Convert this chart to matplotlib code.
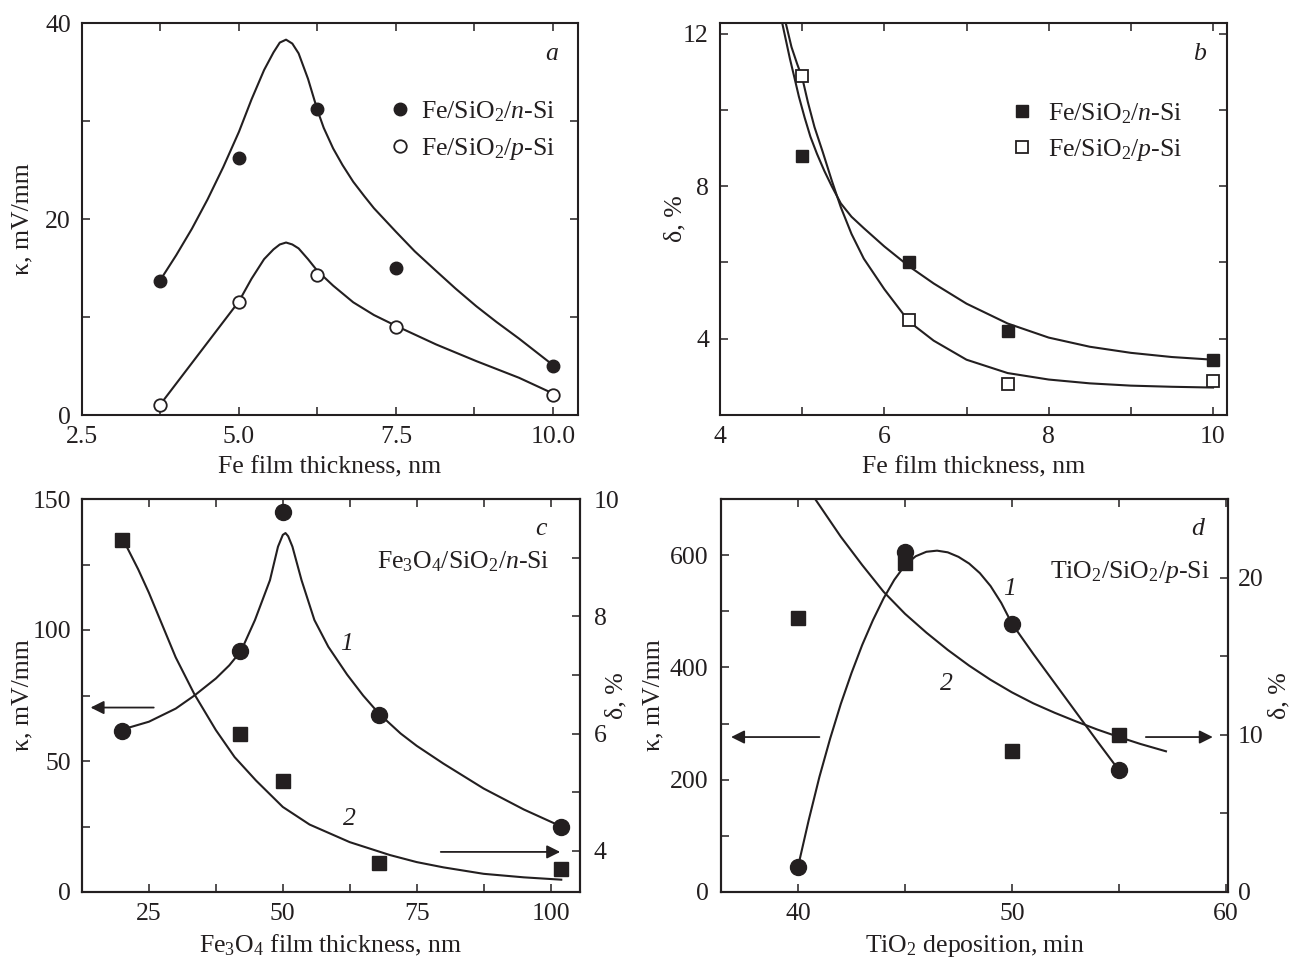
import matplotlib
matplotlib.use("Agg")
import matplotlib.pyplot as plt
from matplotlib.ticker import MultipleLocator, FormatStrFormatter

FS = 18.5
plt.rcParams['font.family'] = ['Liberation Serif', 'DejaVu Serif']
plt.rcParams['mathtext.fontset'] = 'custom'
plt.rcParams['mathtext.rm'] = 'Liberation Serif'
plt.rcParams['mathtext.it'] = 'Liberation Serif:italic'
plt.rcParams['font.size'] = FS

INK = '#231f20'

# --- panel a: kappa vs Fe thickness
a_thick = [3.75, 5.0, 6.25, 7.5, 10.0]
a_kappa_n = [13.7, 26.2, 31.2, 15.0, 5.0]
a_kappa_p = [1.0, 11.5, 14.3, 9.0, 2.0]
a_fit_n_x = [3.75, 4.0, 4.25, 4.5, 4.75, 5.0, 5.2, 5.4, 5.55, 5.65, 5.75, 5.85, 5.95,
             6.1, 6.25, 6.35, 6.5, 6.65, 6.82, 7.0, 7.15, 7.5, 7.8, 8.14, 8.45, 8.78,
             9.1, 9.46, 10.0]
a_fit_n_y = [13.8, 16.3, 19.0, 22.0, 25.3, 28.9, 32.2, 35.2, 37.0, 38.0, 38.3, 37.9, 36.9,
             34.3, 31.1, 29.3, 27.2, 25.5, 23.8, 22.3, 21.1, 18.7, 16.7, 14.7, 12.9, 11.1,
             9.5, 7.8, 5.1]
a_fit_p_x = [3.75, 4.0, 4.25, 4.5, 4.75, 5.0, 5.2, 5.4, 5.55, 5.65, 5.75, 5.85, 5.95,
             6.1, 6.25, 6.5, 6.82, 7.15, 7.5, 8.14, 8.78, 9.46, 10.0]
a_fit_p_y = [1.1, 3.2, 5.3, 7.4, 9.5, 11.6, 13.9, 15.9, 16.9, 17.4, 17.6, 17.4, 17.0,
             15.9, 14.7, 13.2, 11.5, 10.2, 9.1, 7.2, 5.5, 3.8, 2.2]

# --- panel b: delta vs Fe thickness
b_thick = [5.0, 6.3, 7.5, 10.0]
b_delta_n = [8.8, 6.0, 4.2, 3.45]
b_delta_p = [10.9, 4.5, 2.8, 2.9]
b_fit_n_x = [4.757, 4.80, 4.85, 4.90, 4.96, 5.03, 5.10, 5.18, 5.27, 5.36, 5.47, 5.6,
             5.75, 6.0, 6.3, 6.6, 7.0, 7.5, 8.0, 8.5, 9.0, 9.5, 10.0]
b_fit_n_y = [12.28, 11.85, 11.35, 10.9, 10.35, 9.8, 9.3, 8.85, 8.4, 8.0, 7.55, 7.2,
             6.9, 6.42, 5.9, 5.45, 4.92, 4.4, 4.03, 3.79, 3.63, 3.52, 3.45]
b_fit_p_x = [4.80, 4.87, 4.94, 5.0, 5.07, 5.15, 5.25, 5.36, 5.47, 5.6, 5.75, 6.0, 6.3,
             6.6, 7.0, 7.5, 8.0, 8.5, 9.0, 9.5, 10.0]
b_fit_p_y = [12.28, 11.65, 11.2, 10.85, 10.2, 9.55, 8.9, 8.15, 7.45, 6.75, 6.1, 5.3, 4.45,
             3.95, 3.45, 3.1, 2.93, 2.83, 2.77, 2.74, 2.72]

# --- panel c: Fe3O4 films
c_thick = [20, 42, 50, 68, 102]
c_kappa = [61.5, 92, 145, 67.5, 24.8]
c_delta = [9.3, 6.0, 5.2, 3.8, 3.7]
c_fit_k_x = [20, 25, 30, 33.5, 37.5, 40, 42.2, 44.8, 47.6, 49.1, 50.0, 50.5, 51.0, 51.8,
             53.5, 55.9, 58.5, 62, 65, 68, 72, 75, 80, 87.5, 95, 102]
c_fit_k_y = [62, 65, 70, 75, 81.5, 86.5, 92, 103.8, 119, 131.8, 136.3, 137, 135.8, 131.8,
             119, 103.8, 93.6, 83, 75, 68, 60.5, 55.8, 49, 39.5, 31.5, 25]
c_fit_d_x = [20.5, 23, 25, 27.5, 30, 33.5, 37.5, 41, 45, 50, 55, 62.5, 70, 75, 80, 87.5,
             95, 102]
c_fit_d_y = [9.25, 8.8, 8.4, 7.85, 7.3, 6.67, 6.06, 5.6, 5.2, 4.75, 4.45, 4.15, 3.93,
             3.81, 3.72, 3.61, 3.55, 3.51]

# --- panel d: TiO2 deposition
d_time = [40, 45, 50, 55]
d_kappa = [45, 605, 478, 218]
d_delta = [17.4, 20.9, 9.0, 10.0]
d_fit_k_x = [40, 40.5, 41, 41.5, 42, 42.5, 43, 43.5, 44, 44.5, 45, 45.5, 46, 46.5, 47,
             47.5, 48, 48.5, 49, 49.5, 50, 51, 52, 53, 54, 55]
d_fit_k_y = [45, 128, 205, 273, 335, 390, 440, 484, 523, 556, 582, 598, 606, 608, 605,
             597, 585, 568, 545, 515, 478, 424, 372, 320, 268, 217]
d_fit_d_x = [40.8, 41.5, 42, 43, 44, 45, 46, 47, 48, 49, 50, 51, 52, 53, 54, 55, 56, 57.2]
d_fit_d_y = [25, 23.6, 22.6, 20.8, 19.1, 17.7, 16.5, 15.4, 14.4, 13.5, 12.7, 12.0, 11.4,
             10.85, 10.33, 9.86, 9.42, 8.95]

W, H = 1294, 958


def axes_box(left, top, right, bottom):
    return [left / W, 1 - bottom / H, (right - left) / W, (bottom - top) / H]


def style(ax):
    ax.tick_params(which='both', direction='in', length=6, width=1.1, color=INK,
                   labelcolor=INK, pad=8, labelsize=FS)
    for s in ax.spines.values():
        s.set_linewidth(1.5)
        s.set_color(INK)


def arrow(ax, x0, x1, y):
    ax.annotate('', xy=(x1, y), xytext=(x0, y),
                arrowprops=dict(arrowstyle='-|>', color=INK, lw=1.3, mutation_scale=20,
                                shrinkA=0, shrinkB=0))


fig = plt.figure(figsize=(W / 100, H / 100), dpi=100)
lw = 1.5

# ---------- a
ax = fig.add_axes(axes_box(82, 23, 578, 415))
ax.plot(a_fit_n_x, a_fit_n_y, '-', color=INK, lw=lw, zorder=2)
ax.plot(a_fit_p_x, a_fit_p_y, '-', color=INK, lw=lw, zorder=2)
ax.plot(a_thick, a_kappa_n, 'o', color=INK, ms=9, zorder=3, label='Fe/SiO$_\\mathrm{2}$/$n$-Si')
ax.plot(a_thick, a_kappa_p, 'o', mfc='white', mec=INK, mew=1.3, ms=9, zorder=3,
        label='Fe/SiO$_\\mathrm{2}$/$p$-Si')
ax.set_xlim(2.5, 10.4)
ax.set_ylim(0, 40)
ax.xaxis.set_major_locator(MultipleLocator(2.5))
ax.xaxis.set_minor_locator(MultipleLocator(1.25))
ax.xaxis.set_major_formatter(FormatStrFormatter('%.1f'))
ax.yaxis.set_major_locator(MultipleLocator(20))
ax.yaxis.set_minor_locator(MultipleLocator(10))
style(ax)
ax.tick_params(which='both', top=True, right=True)
ax.set_xlabel('Fe film thickness, nm', color=INK)
ax.set_ylabel('κ, mV/mm', color=INK)
ax.xaxis.set_label_coords(0.5, -0.105)
ax.yaxis.set_label_coords(-0.098, 0.5)
ax.text(9.98, 36.2, 'a', style='italic', ha='center', va='baseline', color=INK)
ax.legend(loc='upper left', bbox_to_anchor=(0.615, 0.805), frameon=False, handlelength=1.0,
          handletextpad=0.34, labelspacing=0.46, borderpad=0, borderaxespad=0, numpoints=1,
          labelcolor=INK)

# ---------- b
ax = fig.add_axes(axes_box(720, 23, 1227, 415))
ax.plot(b_fit_n_x, b_fit_n_y, '-', color=INK, lw=lw, zorder=2)
ax.plot(b_fit_p_x, b_fit_p_y, '-', color=INK, lw=lw, zorder=2)
ax.plot(b_thick, b_delta_n, 's', color=INK, ms=8, zorder=3, label='Fe/SiO$_\\mathrm{2}$/$n$-Si')
ax.plot(b_thick, b_delta_p, 's', mfc='white', mec=INK, mew=1.3, ms=8, zorder=3,
        label='Fe/SiO$_\\mathrm{2}$/$p$-Si')
ax.set_xlim(4, 10.17)
ax.set_ylim(2.0, 12.28)
ax.xaxis.set_major_locator(MultipleLocator(2))
ax.xaxis.set_minor_locator(MultipleLocator(1))
ax.yaxis.set_major_locator(MultipleLocator(4))
ax.yaxis.set_minor_locator(MultipleLocator(2))
style(ax)
ax.tick_params(which='both', top=True, right=True)
ax.set_xlabel('Fe film thickness, nm', color=INK)
ax.set_ylabel('δ, %', color=INK)
ax.xaxis.set_label_coords(0.5, -0.105)
ax.yaxis.set_label_coords(-0.067, 0.5)
ax.text(9.83, 11.3, 'b', style='italic', ha='center', va='baseline', color=INK)
ax.legend(loc='upper left', bbox_to_anchor=(0.57, 0.80), frameon=False, handlelength=1.0,
          handletextpad=0.5, labelspacing=0.42, borderpad=0, borderaxespad=0, numpoints=1,
          labelcolor=INK)

# ---------- c
ax = fig.add_axes(axes_box(82, 499, 580, 892))
ax2 = ax.twinx()
ax.plot(c_fit_k_x, c_fit_k_y, '-', color=INK, lw=lw, zorder=2)
ax.plot(c_thick, c_kappa, 'o', color=INK, ms=11.5, zorder=3)
ax2.plot(c_fit_d_x, c_fit_d_y, '-', color=INK, lw=lw, zorder=2)
ax2.plot(c_thick, c_delta, 's', color=INK, ms=10, zorder=3)
ax.set_xlim(12.5, 105.5)
ax.set_ylim(0, 150)
ax2.set_ylim(3.3, 10)
ax.xaxis.set_major_locator(MultipleLocator(25))
ax.xaxis.set_minor_locator(MultipleLocator(12.5))
ax.yaxis.set_major_locator(MultipleLocator(50))
ax.yaxis.set_minor_locator(MultipleLocator(25))
ax2.yaxis.set_major_locator(MultipleLocator(2))
ax2.yaxis.set_minor_locator(MultipleLocator(1))
style(ax)
style(ax2)
ax.tick_params(axis='x', which='both', top=True)
ax2.tick_params(axis='y', which='both', pad=10)
ax.set_xlabel('Fe$_\\mathrm{3}$O$_\\mathrm{4}$ film thickness, nm', color=INK)
ax.set_ylabel('κ, mV/mm', color=INK)
ax2.set_ylabel('δ, %', color=INK)
ax.xaxis.set_label_coords(0.5, -0.105)
ax.yaxis.set_label_coords(-0.098, 0.5)
ax2.yaxis.set_label_coords(1.052, 0.5)
ax.text(98.2, 136.3, 'c', style='italic', ha='center', va='baseline', color=INK)
ax.text(99.9, 123.6, 'Fe$_\\mathrm{3}$O$_\\mathrm{4}$/SiO$_\\mathrm{2}$/$n$-Si',
        ha='right', va='baseline', color=INK)
ax.text(61.9, 92.4, '1', style='italic', ha='center', va='baseline', color=INK)
ax.text(62.5, 25.5, '2', style='italic', ha='center', va='baseline', color=INK)
arrow(ax, 25.9, 14.1, 70.4)
arrow(ax, 79.5, 101.8, 15.3)

# ---------- d
ax = fig.add_axes(axes_box(721, 499, 1228, 892))
ax2 = ax.twinx()
ax.plot(d_fit_k_x, d_fit_k_y, '-', color=INK, lw=lw, zorder=2)
ax.plot(d_time, d_kappa, 'o', color=INK, ms=11.5, zorder=3)
ax2.plot(d_fit_d_x, d_fit_d_y, '-', color=INK, lw=lw, zorder=2)
ax2.plot(d_time, d_delta, 's', color=INK, ms=10, zorder=3)
ax.set_xlim(36.4, 60.1)
ax.set_ylim(0, 700)
ax2.set_ylim(0, 25)
ax.xaxis.set_major_locator(MultipleLocator(10))
ax.xaxis.set_minor_locator(MultipleLocator(5))
ax.yaxis.set_major_locator(MultipleLocator(200))
ax.yaxis.set_minor_locator(MultipleLocator(100))
ax2.yaxis.set_major_locator(MultipleLocator(10))
ax2.yaxis.set_minor_locator(MultipleLocator(5))
style(ax)
style(ax2)
ax.tick_params(axis='x', which='both', top=True)
ax.tick_params(axis='y', pad=9)
ax2.tick_params(axis='y', which='both', pad=7)
ax.set_xlabel('TiO$_\\mathrm{2}$ deposition, min', color=INK)
ax.set_ylabel('κ, mV/mm', color=INK)
ax2.set_ylabel('δ, %', color=INK)
ax.xaxis.set_label_coords(0.5, -0.105)
ax.yaxis.set_label_coords(-0.112, 0.5)
ax2.yaxis.set_label_coords(1.079, 0.5)
ax.text(58.66, 636, 'd', style='italic', ha='center', va='baseline', color=INK)
ax.text(59.27, 560, 'TiO$_\\mathrm{2}$/SiO$_\\mathrm{2}$/$p$-Si', ha='right', va='baseline',
        color=INK)
ax.text(49.9, 529, '1', style='italic', ha='center', va='baseline', color=INK)
ax.text(46.95, 359.5, '2', style='italic', ha='center', va='baseline', color=INK)
arrow(ax, 41.0, 36.87, 276)
arrow(ax, 56.26, 59.39, 276)

fig.savefig('out.png', dpi=100)
